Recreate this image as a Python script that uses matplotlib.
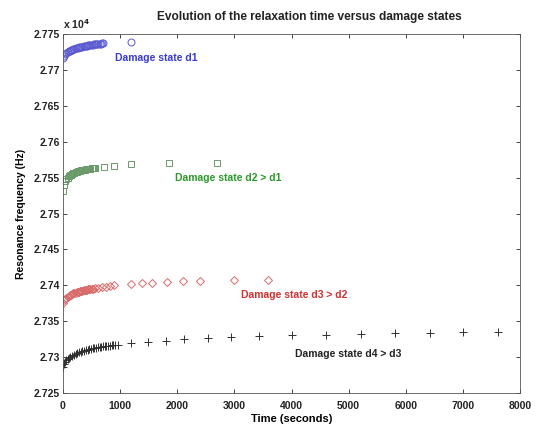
import matplotlib
matplotlib.use("Agg")
import matplotlib.pyplot as plt
from matplotlib.ticker import FixedLocator

plt.rcParams['font.family'] = ['Liberation Sans', 'DejaVu Sans']

# Data (resonance frequency in units of x10^4 Hz, time in seconds)
t_d1 = [0, 20, 40, 60, 80, 100, 120, 140, 160, 180, 200, 220, 240, 260, 280, 300,
        320, 340, 360, 380, 400, 420, 440, 460, 480, 500, 520, 540, 560, 580, 600,
        620, 640, 660, 680, 700, 1190]
f_d1 = [2.77160, 2.77194, 2.77216, 2.77232, 2.77245, 2.77257, 2.77266, 2.77274,
        2.77282, 2.77288, 2.77294, 2.77300, 2.77305, 2.77309, 2.77314, 2.77318,
        2.77322, 2.77325, 2.77329, 2.77332, 2.77335, 2.77338, 2.77341, 2.77344,
        2.77347, 2.77350, 2.77352, 2.77354, 2.77356, 2.77358, 2.77360, 2.77362,
        2.77364, 2.77366, 2.77368, 2.77370, 2.77395]

t_d2 = [0, 20, 40, 60, 80, 100, 120, 140, 160, 180, 200, 220, 240, 260, 280, 300,
        320, 340, 360, 380, 400, 420, 440, 460, 480, 500, 520, 540, 560,
        720, 890, 1190, 1850, 2690]
f_d2 = [2.7532, 2.7540, 2.7545, 2.7548, 2.7550, 2.7552, 2.7553, 2.7554, 2.7555,
        2.7556, 2.7557, 2.75575, 2.7558, 2.75585, 2.7559, 2.75595, 2.7560,
        2.75603, 2.75606, 2.7561, 2.75613, 2.75616, 2.7562, 2.75622, 2.75625,
        2.75628, 2.7563, 2.75632, 2.75635,
        2.7565, 2.7566, 2.7569, 2.7570, 2.7570]

t_d3 = [0, 20, 40, 60, 80, 100, 120, 140, 160, 180, 200, 220, 240, 260, 280, 300,
        320, 340, 360, 380, 400, 420, 440, 460, 480, 500, 520, 560, 620, 680,
        750, 820, 900, 1190, 1380, 1560, 1820, 2100, 2400, 2990, 3580]
f_d3 = [2.73757, 2.73790, 2.73810, 2.73826, 2.73840, 2.73852, 2.73862, 2.73871,
        2.73879, 2.73886, 2.73892, 2.73898, 2.73903, 2.73908, 2.73913, 2.73918,
        2.73922, 2.73926, 2.73930, 2.73934, 2.73937, 2.73940, 2.73943, 2.73946,
        2.73949, 2.73952, 2.73955, 2.73962, 2.73968, 2.73974,
        2.73982, 2.73990, 2.73998, 2.74020, 2.74027, 2.74030, 2.74040, 2.74055,
        2.74055, 2.74078, 2.74080]

t_d4 = [0, 20, 40, 60, 80, 100, 130, 160, 190, 220, 250, 280, 310, 340, 370, 400,
        430, 460, 490, 520, 550, 580, 610, 640, 670, 700, 730, 760, 790, 820,
        850, 880, 910, 960,
        1190, 1490, 1800, 2120, 2540, 2940, 3430, 4010, 4610, 5210, 5820, 6420,
        7000, 7610]
f_d4 = [2.72863, 2.72905, 2.72935, 2.72955, 2.72972, 2.72987, 2.73005, 2.73020,
        2.73033, 2.73045, 2.73056, 2.73066, 2.73075, 2.73083, 2.73091, 2.73098,
        2.73105, 2.73111, 2.73117, 2.73122, 2.73127, 2.73132, 2.73136, 2.73140,
        2.73144, 2.73148, 2.73151, 2.73154, 2.73157, 2.73160, 2.73163, 2.73166,
        2.73168, 2.73172,
        2.73197, 2.73212, 2.73230, 2.73254, 2.73270, 2.73280, 2.73292, 2.73310,
        2.73314, 2.73324, 2.73330, 2.73342, 2.73347, 2.73347]

x_ticks = [0, 1000, 2000, 3000, 4000, 5000, 6000, 7000, 8000]
y_ticks = [2.725, 2.73, 2.735, 2.74, 2.745, 2.75, 2.755, 2.76, 2.765, 2.77, 2.775]
y_tick_labels = ["2.725", "2.73", "2.735", "2.74", "2.745", "2.75", "2.755",
                 "2.76", "2.765", "2.77", "2.775"]

fig = plt.figure(figsize=(5.38, 4.26), dpi=100)
ax = fig.add_axes([63/538, 33/426, 457/538, 359/426])

ax.plot(t_d1, f_d1, linestyle='none', marker='o', markersize=5, markerfacecolor='none',
        markeredgecolor='#5a5ad0', markeredgewidth=0.7)
ax.plot(t_d2, f_d2, linestyle='none', marker='s', markersize=4.5, markerfacecolor='none',
        markeredgecolor='#6a9a6a', markeredgewidth=0.7)
ax.plot(t_d3, f_d3, linestyle='none', marker='D', markersize=4.5, markerfacecolor='none',
        markeredgecolor='#d86a6a', markeredgewidth=0.7)
ax.plot(t_d4, f_d4, linestyle='none', marker='+', markersize=6, color='#303030',
        markeredgewidth=0.7)

ax.set_xlim(0, 8000)
ax.set_ylim(2.725, 2.775)
ax.xaxis.set_major_locator(FixedLocator(x_ticks))
ax.set_yticks(y_ticks)
ax.set_yticklabels(y_tick_labels)
ax.tick_params(direction='in', top=True, right=True, length=3, width=0.6,
               labelsize=7.5, colors='#222222')
ax.tick_params(axis='x', pad=6)
ax.tick_params(axis='y', pad=2)
for lab in ax.get_xticklabels() + ax.get_yticklabels():
    lab.set_fontweight('bold')
for sp in ax.spines.values():
    sp.set_linewidth(0.6)
    sp.set_color('#555555')

ax.set_xlabel('Time (seconds)', fontsize=8, fontweight='bold', labelpad=2)
ax.set_ylabel('Resonance frequency (Hz)', fontsize=7.5, fontweight='bold', labelpad=6)

fig.text(309/538, 1 - 17/426, 'Evolution of the relaxation time versus damage states',
         ha='center', va='center', fontsize=8.6, fontweight='bold', color='#222222')
fig.text(63/538, 1 - 24/426, r'x 10$^{\mathbf{4}}$', ha='left', va='center', fontsize=7.5,
         fontweight='bold', color='#222222')

ax.text(910, 2.77166, 'Damage state d1', color='#3a3ad0', fontsize=7.5,
        fontweight='bold', va='center', ha='left')
ax.text(1960, 2.7550, 'Damage state d2 > d1', color='#2a9a2a', fontsize=7.5,
        fontweight='bold', va='center', ha='left')
ax.text(3110, 2.7386, 'Damage state d3 > d2', color='#d03030', fontsize=7.5,
        fontweight='bold', va='center', ha='left')
ax.text(4060, 2.7305, 'Damage state d4 > d3', color='#222222', fontsize=7.5,
        fontweight='bold', va='center', ha='left')

fig.savefig('out.png', dpi=100)
